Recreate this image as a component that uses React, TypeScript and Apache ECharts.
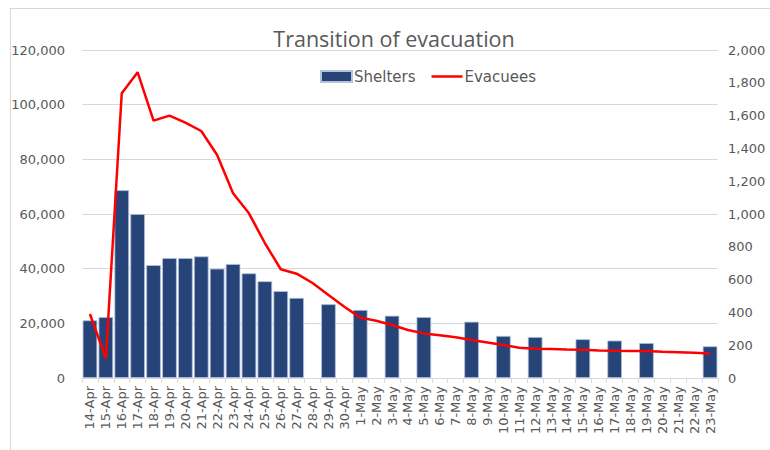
import React, { useEffect, useRef } from "react";
import * as echarts from "echarts";

const categories = [
  "14-Apr", "15-Apr", "16-Apr", "17-Apr", "18-Apr", "19-Apr", "20-Apr", "21-Apr", "22-Apr", "23-Apr",
  "24-Apr", "25-Apr", "26-Apr", "27-Apr", "28-Apr", "29-Apr", "30-Apr", "1-May", "2-May", "3-May",
  "4-May", "5-May", "6-May", "7-May", "8-May", "9-May", "10-May", "11-May", "12-May", "13-May",
  "14-May", "15-May", "16-May", "17-May", "18-May", "19-May", "20-May", "21-May", "22-May", "23-May",
];

const shelters: (number | null)[] = [
  21100, 22300, 68700, 60000, 41300, 43900, 43900, 44500, 40000, 41700,
  38300, 35400, 31800, 29300, null, 27000, null, 24900, null, 22800,
  null, 22300, null, null, 20600, null, 15400, null, 15000, null,
  null, 14200, null, 13700, null, 12800, null, null, null, 11600,
];

const evacuees: number[] = [
  390, 120, 1736, 1864, 1569, 1600, 1557, 1506, 1360, 1126,
  1004, 823, 663, 636, 579, 506, 435, 368, 349, 323,
  293, 272, 260, 248, 232, 217, 201, 185, 179, 177,
  174, 172, 168, 166, 165, 165, 160, 157, 154, 150,
];

const leftTicks = { min: 0, max: 120000, interval: 20000 };
const rightTicks = { min: 0, max: 2000, interval: 200 };

const fmt = (v: number) => v.toLocaleString("en-US");

export default function App() {
  const ref = useRef<HTMLDivElement>(null);
  useEffect(() => {
    if (!ref.current) return;
    const chart = echarts.init(ref.current, null, { renderer: "svg" });
    const labelFont = "DejaVu Sans";
    chart.setOption({
      animation: false,
      backgroundColor: "#ffffff",
      title: {
        text: "Transition of evacuation",
        left: 389,
        textAlign: "center",
        top: 22,
        textStyle: { fontFamily: "Open Sans", fontSize: 21.5, fontWeight: "normal", color: "#595959" },
      },
      legend: {
        left: 315,
        top: 64,
        itemWidth: 31,
        itemHeight: 11,
        itemGap: 16,
        symbolKeepAspect: true,
        textStyle: { fontFamily: labelFont, fontSize: 15, color: "#595959", padding: [0, 0, 0, -3] },
        data: [
          { name: "Shelters", icon: "rect" },
          { name: "Evacuees", icon: "path://M0,0 H31 V2.5 H0 Z", itemStyle: { color: "#ff0000" } },
        ],
      },
      graphic: [
        { type: "line", shape: { x1: 10.5, y1: 8, x2: 10.5, y2: 450 }, style: { stroke: "#d9d9d9", lineWidth: 1 } },
        { type: "line", shape: { x1: 10, y1: 8.5, x2: 770, y2: 8.5 }, style: { stroke: "#d9d9d9", lineWidth: 1 } },
      ],
      grid: { left: 82, right: 52, top: 50, bottom: 72 },
      xAxis: {
        type: "category",
        data: categories,
        boundaryGap: true,
        axisLine: { lineStyle: { color: "#d9d9d9" } },
        axisTick: { show: true, length: 5, lineStyle: { color: "#d9d9d9" } },
        axisLabel: {
          interval: 0,
          rotate: 90,
          fontFamily: labelFont,
          fontSize: 13,
          color: "#595959",
          margin: 8,
        },
      },
      yAxis: [
        {
          type: "value",
          ...leftTicks,
          axisLine: { show: false },
          axisTick: { show: false },
          splitLine: { lineStyle: { color: "#d9d9d9" } },
          axisLabel: { fontFamily: labelFont, fontSize: 13, color: "#595959", margin: 17, formatter: fmt },
        },
        {
          type: "value",
          ...rightTicks,
          position: "right",
          axisLine: { show: false },
          axisTick: { show: false },
          splitLine: { show: false },
          axisLabel: { fontFamily: labelFont, fontSize: 13, color: "#595959", margin: 10, formatter: fmt },
        },
      ],
      series: [
        {
          name: "Shelters",
          type: "bar",
          yAxisIndex: 0,
          data: shelters,
          barCategoryGap: "8%",
          itemStyle: { color: "#264478", borderColor: "#b4c3dc", borderWidth: 0.8 },
        },
        {
          name: "Evacuees",
          type: "line",
          yAxisIndex: 1,
          data: evacuees,
          showSymbol: false,
          symbol: "none",
          lineStyle: { color: "#ff0000", width: 2.5 },
          itemStyle: { color: "#ff0000" },
        },
      ],
    });
    return () => chart.dispose();
  }, []);
  return (
    <div
      ref={ref}
      style={{ position: "fixed", left: 0, top: 0, width: 770, height: 450 }}
    />
  );
}
